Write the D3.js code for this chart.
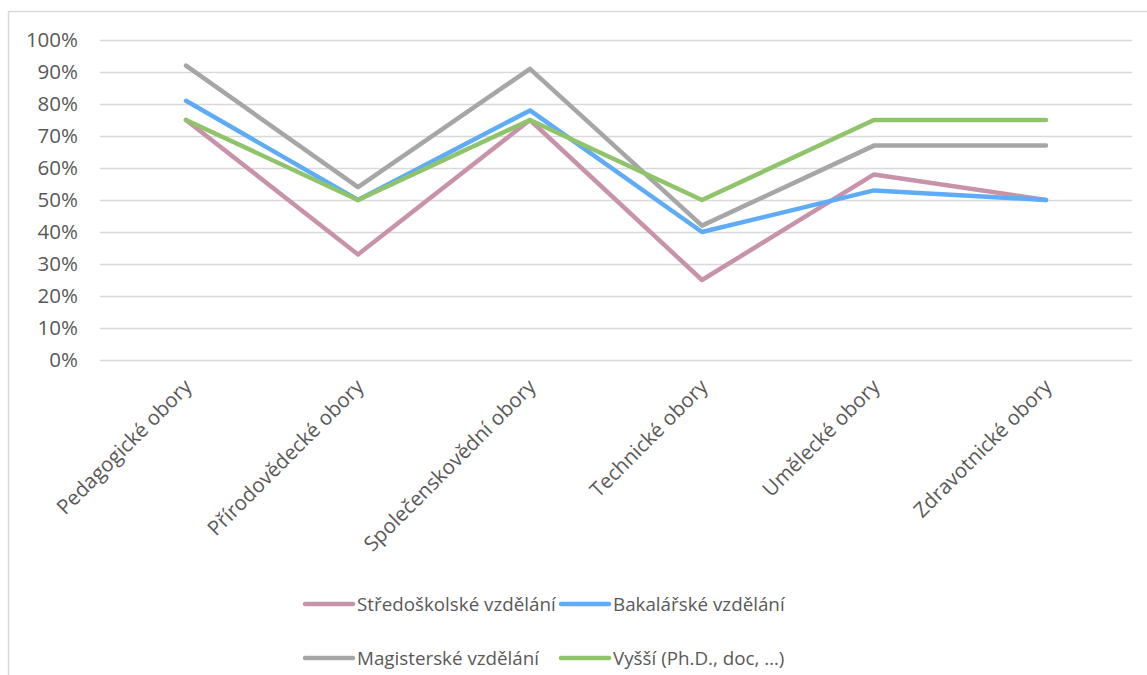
<!DOCTYPE html>
<html>
<head>
<meta charset="utf-8">
<script src="https://cdn.jsdelivr.net/npm/d3@7"></script>
<style>
body{margin:0;background:#fff;}
svg text{font-family:"Open Sans",sans-serif;fill:#595959;}
</style>
</head>
<body>
<div id="chart"></div>
<script>
const obory = ["Pedagogické obory","Přírodovědecké obory","Společenskovědní obory","Technické obory","Umělecké obory","Zdravotnické obory"];
const stredoskolske = [75,33,75,25,58,50];
const bakalarske = [81,50,78,40,53,50];
const magisterske = [92,54,91,42,67,67];
const vyssi = [75,50,75,50,75,75];
const nazvy = ["Středoškolské vzdělání","Bakalářské vzdělání","Magisterské vzdělání","Vyšší (Ph.D., doc, …)"];
const yTicks = [0,10,20,30,40,50,60,70,80,90,100];

const barvy = ["#c892ab","#5eacf7","#a6a6a6","#8fc46b"];
const rady = [stredoskolske,bakalarske,magisterske,vyssi];

const w = 1147, h = 675;
const svg = d3.select("#chart").append("svg")
  .attr("width", w).attr("height", h);

// ramecek grafu
svg.append("rect")
  .attr("x", 8.5).attr("y", 11.5)
  .attr("width", 1300).attr("height", 800)
  .attr("fill", "none").attr("stroke", "#d9d9d9").attr("stroke-width", 1.5);

const x = d3.scaleBand().domain(obory).range([100, 1132]);
const y = d3.scaleLinear().domain([0, 100]).range([360, 40]);

const y_axis = d3.axisLeft(y).tickValues(yTicks)
  .tickSize(-1032).tickPadding(22)
  .tickFormat(d => d + "%");
svg.append("g").attr("transform", "translate(100,0)").call(y_axis)
  .call(g => g.select(".domain").remove())
  .call(g => g.selectAll("line").attr("stroke", "#d9d9d9").attr("stroke-width", 1.3))
  .call(g => g.selectAll("text").style("font-size", "20.5px").attr("fill", "#595959"));

const x_axis = d3.axisBottom(x).tickSize(0).tickPadding(0);
svg.append("g").attr("transform", "translate(0,360)").call(x_axis)
  .call(g => g.select(".domain").remove())
  .call(g => g.selectAll("text")
    .style("font-size", "20.5px")
    .attr("text-anchor", "end")
    .attr("dy", 0).attr("y", 0)
    .attr("transform", "translate(7,28) rotate(-45)"));

const line = d3.line()
  .x((d, i) => x(obory[i]) + x.bandwidth() / 2)
  .y(d => y(d));

for (let i = 0; i < rady.length; i++) {
  svg.append("path")
    .datum(rady[i])
    .attr("d", line)
    .attr("fill", "none")
    .attr("stroke", barvy[i])
    .attr("stroke-width", 4.5)
    .attr("stroke-linecap", "round")
    .attr("stroke-linejoin", "round");
}

// legenda
const legPos = [[305,604],[561,604],[305,658],[561,658]];
for (let i = 0; i < nazvy.length; i++) {
  const g = svg.append("g").attr("transform", "translate(" + legPos[i][0] + "," + legPos[i][1] + ")");
  g.append("line").attr("x1", 0).attr("x2", 48).attr("y1", 0).attr("y2", 0)
    .attr("stroke", barvy[i]).attr("stroke-width", 4.5).attr("stroke-linecap", "round");
  g.append("text").attr("x", 52).attr("y", 0).attr("dy", "0.35em")
    .style("font-size", "18.8px").text(nazvy[i]);
}
</script>
</body>
</html>
